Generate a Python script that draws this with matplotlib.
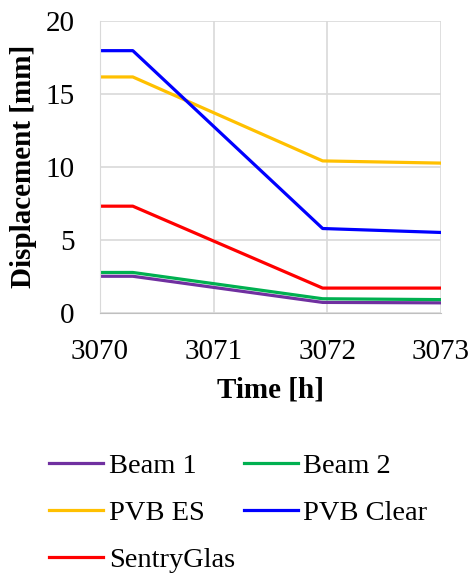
import numpy as np
import matplotlib.pyplot as plt

plt.rcParams['font.family'] = ['Liberation Serif', 'DejaVu Serif']

# time points [h]
time = [3070, 3070.29, 3071.96, 3073]

# displacement [mm]
beam1 = [2.5, 2.5, 0.71, 0.68]
beam2 = [2.76, 2.76, 0.96, 0.9]
pvb_es = [16.15, 16.15, 10.4, 10.25]
pvb_clear = [17.95, 17.95, 5.77, 5.5]
sentryglas = [7.3, 7.3, 1.69, 1.69]

fig = plt.figure(figsize=(4.71, 5.76), dpi=100)
ax = fig.add_axes([0.212, 0.457, 0.724, 0.507])

l1, = ax.plot(time, beam1, color='#7030A0', lw=2.3, label='Beam 1')
l2, = ax.plot(time, beam2, color='#00B050', lw=2.3, label='Beam 2')
l3, = ax.plot(time, pvb_es, color='#FFC000', lw=2.3, label='PVB ES')
l4, = ax.plot(time, pvb_clear, color='#0000FF', lw=2.3, label='PVB Clear')
l5, = ax.plot(time, sentryglas, color='#FF0000', lw=2.3, label='SentryGlas')

ax.set_xlim(3070, 3073)
ax.set_ylim(0, 20)
ax.set_xticks([3070, 3071, 3072, 3073])
ax.set_yticks([0, 5, 10, 15, 20])
ax.grid(True, color='#d9d9d9', lw=1.2)
ax.set_axisbelow(True)
for s in ax.spines.values():
    s.set_visible(False)
ax.spines['bottom'].set_visible(True)
ax.spines['bottom'].set_color('#bfbfbf')
ax.spines['left'].set_visible(True)
ax.spines['left'].set_color('#d9d9d9')
ax.tick_params(length=0, labelsize=21)
ax.tick_params(axis='x', pad=19)
ax.tick_params(axis='y', pad=18)
ax.set_xlabel('Time [h]', fontsize=21, fontweight='bold', labelpad=8)
ax.set_ylabel('Displacement [mm]', fontsize=21, fontweight='bold')
ax.yaxis.set_label_coords(-(100 - 37) / 341, 0.5)

# row-wise order in two columns
handles = [l1, l3, l5, l2, l4]
fig.legend(handles, [h.get_label() for h in handles], ncol=2, frameon=False,
           loc='upper left', bbox_to_anchor=(0.08, 0.234), fontsize=20.5,
           handlelength=1.9, handletextpad=0.2, columnspacing=0.3,
           labelspacing=0.75, borderaxespad=0)

fig.savefig('out.png', dpi=100)
